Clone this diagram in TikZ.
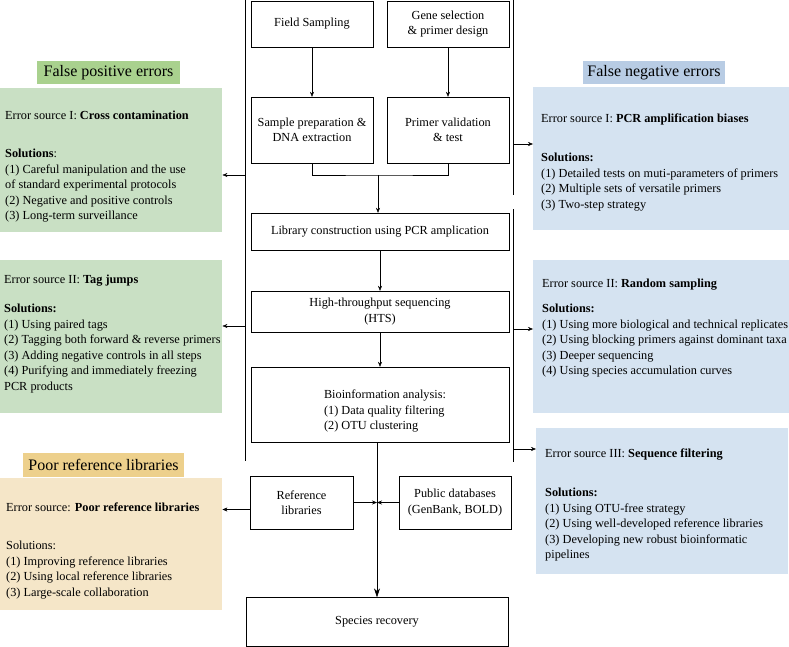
\documentclass[tikz,border=0pt]{standalone}
\usepackage{fontspec}
\setmainfont{Liberation Serif}
\usepackage{xcolor}
\usepackage{tikz}
\usetikzlibrary{shapes,arrows,positioning,calc,arrows.meta}
\definecolor{fpdark}{HTML}{A9D18E}
\definecolor{fplight}{HTML}{C9E0C4}
\definecolor{fndark}{HTML}{B8CCE4}
\definecolor{fnlight}{HTML}{D5E3F1}
\definecolor{prdark}{HTML}{EDD08C}
\definecolor{prlight}{HTML}{F5E6C8}
\tikzstyle{arrow} = [-{Stealth[length=5pt,width=4pt]}, thin]
\tikzstyle{bigarrow} = [-{Stealth[length=9pt,width=6pt]}, semithick]
\tikzstyle{proc} = [rectangle, draw, fill=white, align=center, inner sep=0pt, font=\fontsize{12.3}{15.5}\selectfont]
\tikzstyle{panel} = [rectangle, anchor=north west, inner sep=0pt]
\tikzstyle{paneltext} = [anchor=north west, align=left, inner sep=0pt, font=\fontsize{12.3}{15.5}\selectfont]
\tikzstyle{heading} = [rectangle, inner sep=0pt, font=\fontsize{16}{18}\selectfont]

\begin{document}
\begin{tikzpicture}[x=1pt, y=-1pt]
    \useasboundingbox (0,0) rectangle (789,647);
    % Workflow
    \node[proc, minimum width=122pt, minimum height=46pt] (field) at (312,24) {Field Sampling};
    \node[proc, minimum width=122pt, minimum height=46pt] (gene) at (448,24) {Gene selection\\\& primer design};
    \node[proc, minimum width=122pt, minimum height=66pt] (sample) at (312,130) {Sample preparation \&\\DNA extraction};
    \node[proc, minimum width=122pt, minimum height=66pt] (primer) at (448,130) {Primer validation\\\& test};
    \node[proc, minimum width=258pt, minimum height=37pt] (lib) at (380,231.5) {Library construction using PCR amplication};
    \node[proc, minimum width=258pt, minimum height=41pt] (hts) at (380,311.5) {High-throughput sequencing\\(HTS)};
    \node[proc, minimum width=258pt, minimum height=75pt, align=left] (bio) at (380,404.5) {\rule{0pt}{22pt}\hspace*{10pt}Bioinformation analysis:\\\hspace*{10pt}(1) Data quality filtering\\\hspace*{10pt}(2) OTU clustering};
    \node[proc, minimum width=103pt, minimum height=53pt] (ref) at (301.5,502.5) {Reference\\libraries};
    \node[proc, minimum width=112pt, minimum height=53pt] (pub) at (455,502.5) {Public databases\\(GenBank, BOLD)};
    \node[proc, minimum width=262pt, minimum height=49pt] (spec) at (377,622) {Species recovery};

    % False positive errors
    \node[heading, fill=fpdark, minimum width=143pt, minimum height=23pt] (fphead) at (108.5,72.5) {False positive errors};
    \node[panel, fill=fplight, minimum width=222pt, minimum height=144pt] (fp1) at (0,88) {};
    \node[paneltext] (fp1txt) at (5,111) {Error source I: \textbf{Cross contamination}\\[22.5pt]\textbf{Solutions}:\\(1) Careful manipulation and the use\\of standard experimental protocols\\(2) Negative and positive controls\\(3) Long-term surveillance};
    \node[panel, fill=fplight, minimum width=222pt, minimum height=153pt] (fp2) at (0,260) {};
    \node[paneltext] (fp2txt) at (4,275) {Error source II: \textbf{Tag jumps}\\[13.5pt]\textbf{Solutions:}\\(1) Using paired tags\\(2) Tagging both forward \& reverse primers\\(3) Adding negative controls in all steps\\(4) Purifying and immediately freezing\\PCR products};

    % Poor reference libraries
    \node[heading, fill=prdark, minimum width=161pt, minimum height=24pt] (prhead) at (103.5,465) {Poor reference libraries};
    \node[panel, fill=prlight, minimum width=222pt, minimum height=132pt] (pr) at (0,478) {};
    \node[paneltext] (prtxt) at (6,503) {Error source: \textbf{Poor reference libraries}\\[22.5pt]Solutions:\\(1) Improving reference libraries\\(2) Using local reference libraries\\(3) Large-scale collaboration};

    % False negative errors
    \node[heading, fill=fndark, minimum width=142pt, minimum height=23pt] (fnhead) at (654,72.5) {False negative errors};
    \node[panel, fill=fnlight, minimum width=256pt, minimum height=143pt] (fn1) at (533,87) {};
    \node[paneltext] (fn1txt) at (541,114) {Error source I: \textbf{PCR amplification biases}\\[23.5pt]\textbf{Solutions:}\\(1) Detailed tests on muti-parameters of primers\\(2) Multiple sets of versatile primers\\(3) Two-step strategy};
    \node[panel, fill=fnlight, minimum width=256pt, minimum height=153pt] (fn2) at (533,260) {};
    \node[paneltext] (fn2txt) at (542,279) {Error source II: \textbf{Random sampling}\\[9.5pt]\textbf{Solutions:}\\(1) Using more biological and technical replicates\\(2) Using blocking primers against dominant taxa\\(3) Deeper sequencing\\(4) Using species accumulation curves};
    \node[panel, fill=fnlight, minimum width=252pt, minimum height=146pt] (fn3) at (536,428) {};
    \node[paneltext] (fn3txt) at (545,449) {Error source III: \textbf{Sequence filtering}\\[23.5pt]\textbf{Solutions:}\\(1) Using OTU-free strategy\\(2) Using well-developed reference libraries\\(3) Developing new robust bioinformatic\\pipelines};

    % Side lines
    \coordinate (ltop) at (245,0);
    \coordinate (lbot) at (245,461);
    \coordinate (rtop) at (513,0);
    \coordinate (rmid) at (513,195);
    \coordinate (rmid2) at (513,209);
    \coordinate (rbot) at (513,462);
    \coordinate (lc1) at (245,175);
    \coordinate (lc2) at (245,326);
    \coordinate (rc1) at (513,144);
    \coordinate (rc2) at (513,329);
    \coordinate (rc3) at (513,449);
    \coordinate (join) at (378,175);
    \coordinate (hub) at (spec.north |- ref.east);
    \draw[thin] (ltop) -- (lbot);
    \draw[thin] (rtop) -- (rmid);
    \draw[thin] (rmid2) -- (rbot);

    % Connections
    \draw[arrow] (field) -- (sample);
    \draw[arrow] (gene) -- (primer);
    \draw[thin] (sample.south) |- (join) -| (primer.south);
    \draw[arrow] (join) -- (join |- lib.north);
    \draw[arrow] (lib) -- (hts);
    \draw[arrow] (hts) -- (bio);
    \draw[bigarrow] (bio.south -| spec.north) -- (spec.north);
    \draw[arrow] (ref.east) -- (hub);
    \draw[arrow] (pub.west) -- (hub);
    \draw[arrow] ([yshift=-7pt]ref.west) -- ([yshift=-7pt]ref.west -| pr.east);
    \draw[arrow] (lc1) -- (lc1 -| fp1.east);
    \draw[arrow] (lc2) -- (lc2 -| fp2.east);
    \draw[arrow] (rc1) -- (rc1 -| fn1.west);
    \draw[arrow] (rc2) -- (rc2 -| fn2.west);
    \draw[arrow] (rc3) -- (rc3 -| fn3.west);
\end{tikzpicture}
\end{document}
